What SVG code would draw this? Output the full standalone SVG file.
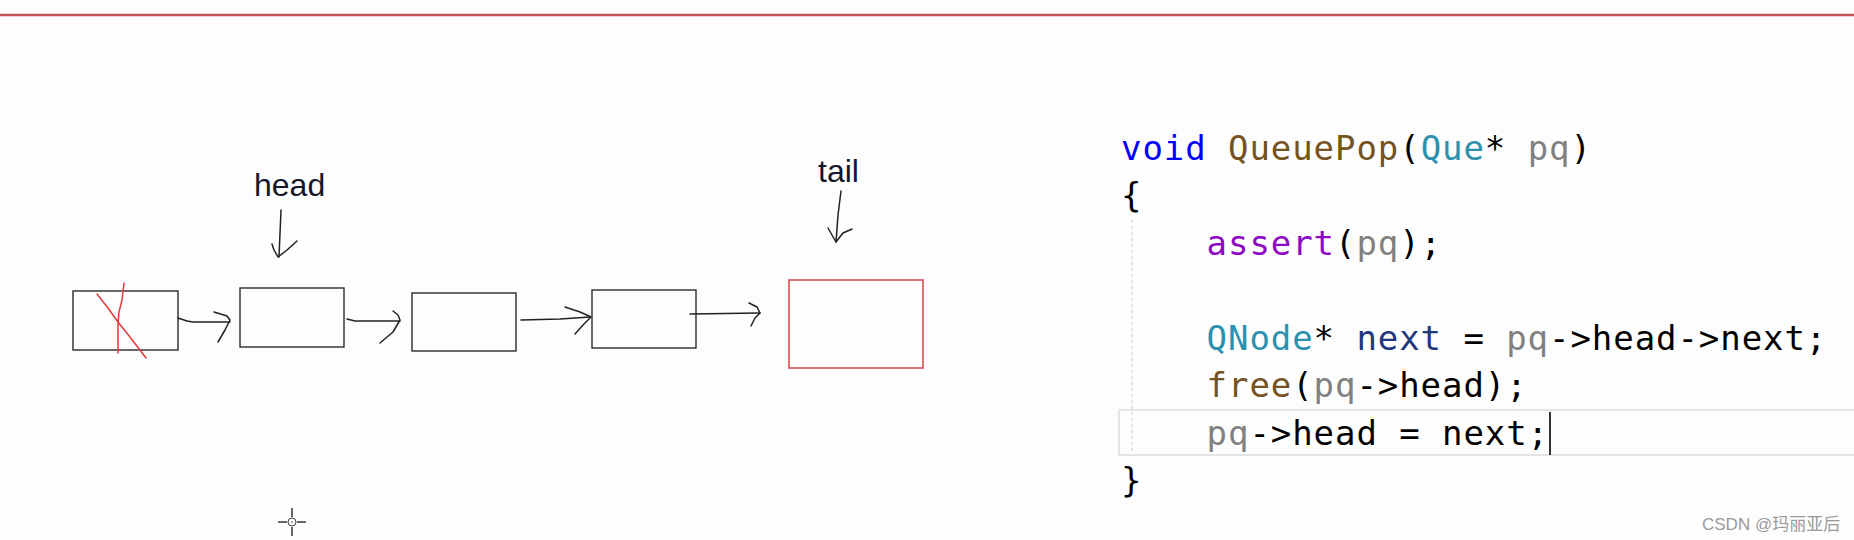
<svg xmlns="http://www.w3.org/2000/svg" width="1854" height="540" viewBox="0 0 1854 540">
  <style>
    .box { fill: none; stroke: #2a2a2a; stroke-width: 1.4; }
    .rbox { fill: none; stroke: #d2424a; stroke-width: 1.5; }
    .ink { fill: none; stroke: #222; stroke-width: 1.5; stroke-linecap: round; stroke-linejoin: round; }
    .red { fill: none; stroke: #e23a3a; stroke-width: 1.5; stroke-linecap: round; stroke-linejoin: round; }
    .lbl { font-family: "Liberation Sans", Arial, sans-serif; font-size: 32px; fill: #16162a; }
    .code { font-family: "DejaVu Sans Mono", "Liberation Mono", monospace; font-size: 34px; letter-spacing: 0.93px; fill: #000; white-space: pre; }
    .kw { fill: #0000ff; }
    .fn { fill: #74531f; }
    .ty { fill: #2b91af; }
    .pa { fill: #808080; }
    .mac { fill: #8f08c4; }
    .loc { fill: #1f377f; }
    .wm { font-family: "Liberation Sans", Arial, "Noto Sans CJK SC", sans-serif; font-size: 17px; fill: #9a9a9a; }
  </style>
  <rect x="0" y="0" width="1854" height="540" fill="#fdfdfd"/>
  <rect x="0" y="13" width="1854" height="4" fill="#f2d2d5"/>
  <rect x="0" y="14" width="1854" height="2" fill="#c54f5b"/>

  <g id="node1">
    <rect class="box" x="73" y="291" width="105" height="59"/>
    <path class="red" d="M124,283 L122,300 L119,312 L118,324 L118,353"/>
    <path class="red" d="M97,294 L108,308 L118,322 L130,337 L146,358"/>
  </g>
  <g id="node2">
    <rect class="box" x="240" y="288" width="104" height="59"/>
  </g>
  <g id="node3">
    <rect class="box" x="412" y="293" width="104" height="58"/>
  </g>
  <g id="node4">
    <rect class="box" x="592" y="290" width="104" height="58"/>
  </g>
  <g id="node5">
    <rect class="rbox" x="789" y="280" width="134" height="88"/>
  </g>
  <g id="label-head">
    <text class="lbl" x="254" y="196">head</text>
  </g>
  <g id="label-tail">
    <text class="lbl" x="818" y="182">tail</text>
  </g>

  <g id="connectors">
    <path class="ink" d="M281,210 L279,257"/>
    <path class="ink" d="M272,244 L274,250 L278,257 L287,250 L297,241"/>
    <path class="ink" d="M841,191 L838,215 L836,242"/>
    <path class="ink" d="M828,228 L832,235 L836,242 L843,233 L852,229"/>
    <path class="ink" d="M178,318 L187,321 L193,322 L230,322"/>
    <path class="ink" d="M214,312 L227,316 L230,320 L225,330 L218,342"/>
    <path class="ink" d="M347,319 L355,321 L400,321"/>
    <path class="ink" d="M393,311 L398,315 L400,320 L393,332 L380,343"/>
    <path class="ink" d="M521,320 L560,319 L590,317"/>
    <path class="ink" d="M565,307 L580,312 L591,317 L583,325 L575,334"/>
    <path class="ink" d="M690,314 L760,313"/>
    <path class="ink" d="M749,303 L757,307 L760,313 L755,318 L751,326"/>
  </g>

  <g id="code">
    <line x1="1132" y1="220" x2="1132" y2="455" stroke="#c8c8c8" stroke-width="1" stroke-dasharray="3,3"/>
    <rect x="1119" y="410" width="745" height="45" fill="none" stroke="#e4e4e4" stroke-width="2"/>
    <text class="code" x="1121" y="159.5"><tspan class="kw">void</tspan> <tspan class="fn">QueuePop</tspan>(<tspan class="ty">Que</tspan>* <tspan class="pa">pq</tspan>)</text>
    <text class="code" x="1121" y="207">{</text>
    <text class="code" x="1206.6" y="254.5"><tspan class="mac">assert</tspan>(<tspan class="pa">pq</tspan>);</text>
    <text class="code" x="1206.6" y="349.5"><tspan class="ty">QNode</tspan>* <tspan class="loc">next</tspan> = <tspan class="pa">pq</tspan>-&gt;head-&gt;next;</text>
    <text class="code" x="1206.6" y="397"><tspan class="fn">free</tspan>(<tspan class="pa">pq</tspan>-&gt;head);</text>
    <text class="code" x="1206.6" y="444.5"><tspan class="pa">pq</tspan>-&gt;head = next;</text>
    <text class="code" x="1121" y="492">}</text>
    <line x1="1550" y1="412" x2="1550" y2="455" stroke="#333" stroke-width="2"/>
  </g>

  <g id="cursor">
    <line x1="278" y1="522" x2="287" y2="522" stroke="#333" stroke-width="1.5"/>
    <line x1="297" y1="522" x2="306" y2="522" stroke="#333" stroke-width="1.5"/>
    <line x1="292" y1="508" x2="292" y2="517" stroke="#333" stroke-width="1.5"/>
    <line x1="292" y1="527" x2="292" y2="536" stroke="#333" stroke-width="1.5"/>
    <circle cx="292" cy="522" r="4" fill="none" stroke="#444" stroke-width="1"/>
    <circle cx="292" cy="522" r="0.8" fill="#444"/>
  </g>

  <g id="watermark">
    <text class="wm" x="1702" y="530">CSDN @玛丽亚后</text>
  </g>
</svg>
